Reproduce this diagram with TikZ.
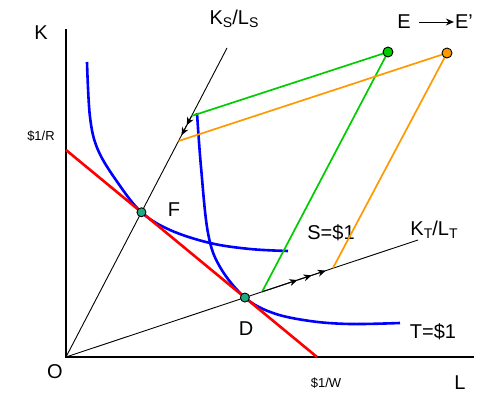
\documentclass[tikz,border=0pt]{standalone}
\usepackage{fontspec}
\setmainfont{Liberation Sans}
\usetikzlibrary{arrows.meta, calc}
\definecolor{grn}{RGB}{0,204,0}
\definecolor{orng}{RGB}{255,153,0}
\definecolor{dotfill}{RGB}{30,170,130}
\newcommand{\lowsub}[1]{\raisebox{-0.3ex}{\fontsize{14}{16}\selectfont #1}}
\tikzset{
  axisline/.style={line width=2.6pt},
  ray/.style={line width=0.9pt},
  budget/.style={draw=red, line width=2.6pt},
  isoq/.style={draw=blue, line width=2.6pt},
  link/.style={draw=#1, line width=1.7pt},
  eq/.style={circle, draw, line width=0.9pt, fill=#1, inner sep=0pt, minimum size=9pt},
  lbl/.style={font=\fontsize{20}{22}\selectfont, inner sep=0pt},
  smalllbl/.style={font=\fontsize{13}{15}\selectfont, inner sep=0pt},
  mv/.style={-{Stealth[length=8pt, width=7pt]}, ray},
}

\begin{document}
\begin{tikzpicture}[x=1pt, y=-1pt]
  \useasboundingbox (0,0) rectangle (483,393);
  % axes
  \coordinate (O) at (66,357);
  \coordinate (Ktop) at (66,29);
  \coordinate (Lend) at (474,357);
  \draw[axisline] (Ktop) -- (O) -- (Lend);
  \node[lbl] (klbl) at (41,33) {K};
  \node[lbl] (olbl) at (55,372) {O};
  \node[lbl] (llbl) at (460,383) {L};

  % factor intensity rays
  \coordinate (ksend) at (227,48);
  \coordinate (ktend) at (418,240);
  \draw[ray] (O) -- (ksend);
  \draw[ray] (O) -- (ktend);
  \node[lbl] (kslbl) at (234,19) {K\lowsub{S}/L\lowsub{S}};
  \node[lbl] (ktlbl) at (434,230) {K\lowsub{T}/L\lowsub{T}};

  % budget line and tangency points
  \coordinate (R) at (66,150);
  \coordinate (W) at (317,357);
  \coordinate (F) at (intersection of R--W and O--ksend);
  \coordinate (D) at (intersection of R--W and O--ktend);

  % unit isoquants
  \draw[isoq] plot[smooth, tension=0.6] coordinates {(87,62) (90,117) (98,150) (118,183) (F) (170,230) (210,243) (250,249) (288,251)};
  \draw[isoq] plot[smooth, tension=0.6] coordinates {(197,113) (201,167) (208,233) (220,267) (D) (273,313) (310,321) (350,324) (400,323)};
  \node[lbl] (slbl) at (331,233) {S=\$1};
  \node[lbl] (tlbl) at (433,332) {T=\$1};

  \draw[budget] (R) -- (W);
  \node[smalllbl] (rlbl) at (41,136) {\$1/R};
  \node[smalllbl] (wlbl) at (326,383) {\$1/W};

  % endowment shift E -> E'
  \coordinate (gs) at ($(O)!0.78!(ksend)$);
  \coordinate (gt) at ($(O)!0.557!(ktend)$);
  \coordinate (os) at ($(O)!0.699!(ksend)$);
  \coordinate (ot) at ($(O)!0.758!(ktend)$);
  \coordinate (Eg) at (388,52);
  \coordinate (Eo) at (447,53);
  \draw[link=grn] (gs) -- (Eg) -- (gt);
  \draw[link=orng] (os) -- (Eo) -- (ot);

  \coordinate (a1) at ($(gs)!0.37!(os)$);
  \coordinate (a2) at ($(gs)!0.77!(os)$);
  \draw[mv] (gs) -- (a1);
  \draw[mv] (a1) -- (a2);
  \coordinate (b1) at ($(gt)!0.5!(ot)$);
  \coordinate (b2) at ($(gt)!0.7!(ot)$);
  \coordinate (b3) at ($(gt)!0.9!(ot)$);
  \draw[mv] (gt) -- (b1);
  \draw[mv] (b1) -- (b2);
  \draw[mv] (b2) -- (b3);

  \node[eq=dotfill] (Fdot) at (F) {};
  \node[eq=dotfill] (Ddot) at (D) {};
  \node[eq=grn, minimum size=10pt] (Egdot) at (Eg) {};
  \node[eq=orng, minimum size=10pt] (Eodot) at (Eo) {};
  \node[lbl] (flbl) at (174,210) {F};
  \node[lbl] (dlbl) at (246,329) {D};

  \node[lbl] (elbl) at (404,22) {E};
  \node[lbl] (eplbl) at (464,22) {E'};
  \draw[mv, shorten <=8pt, shorten >=1pt] (elbl) -- (eplbl);
\end{tikzpicture}
\end{document}
